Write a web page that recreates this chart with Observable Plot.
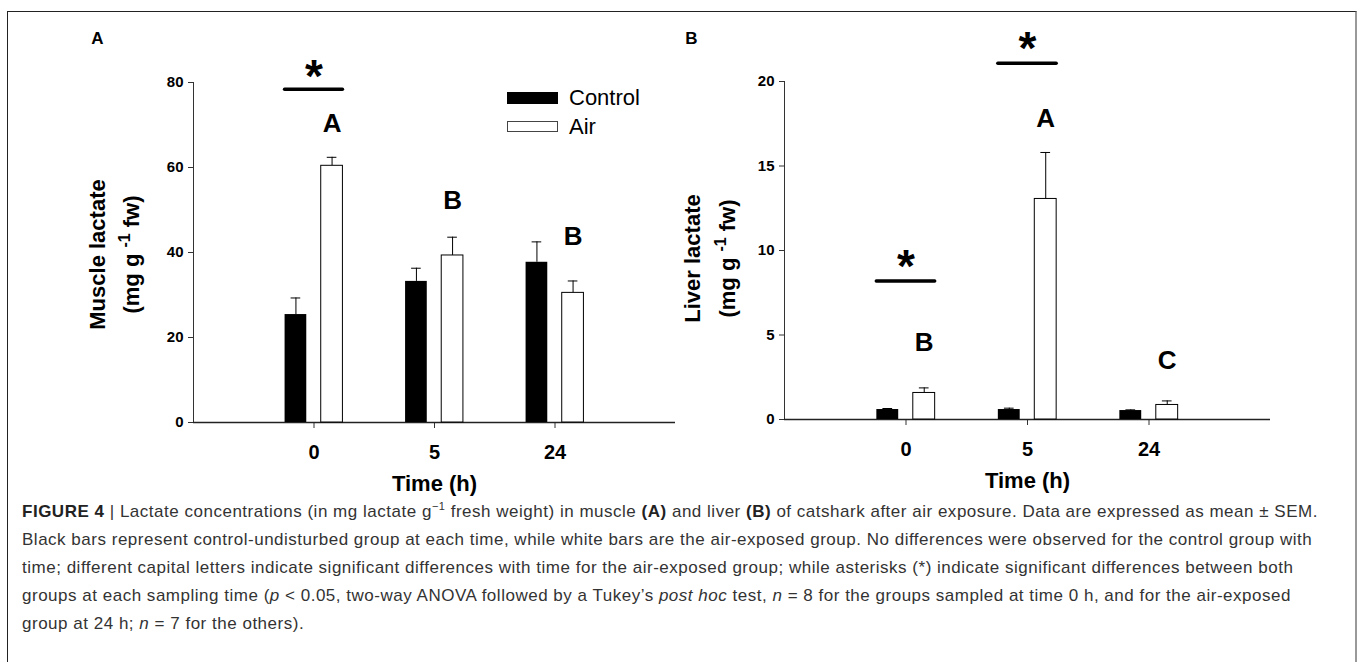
<!DOCTYPE html>
<html>
<head>
<meta charset="utf-8">
<script src="https://cdn.jsdelivr.net/npm/d3@7"></script>
<script src="https://cdn.jsdelivr.net/npm/@observablehq/plot@0.6"></script>
<style>
  html, body { margin: 0; padding: 0; background: #fff; }
  #root { position: relative; width: 1358px; height: 662px; overflow: hidden; font-family: "Liberation Sans", Arial, sans-serif; }
  #frame { position: absolute; left: 7px; top: 11px; width: 1347px; height: 700px; border-left: 1px solid #222; border-top: 1px solid #222; border-right: 2px solid #999; }
  .panel { position: absolute; left: 0; top: 0; }
  .panel svg { overflow: visible; }
  .sw { position: absolute; box-sizing: border-box; }
  .lg { position: absolute; font-size: 22px; color: #000; line-height: 22px; }
  #caption { position: absolute; left: 22px; top: 498px; font-size: 17px; line-height: 28px; color: #333; white-space: nowrap; }
  #caption .ln { display: block; height: 28px; }
  #caption sup { line-height: 0; font-size: 11px; }
  #caption b { color: #222; }
</style>
</head>
<body>
<div id="root">
  <div id="frame"></div>
  <div id="panelA" class="panel"></div>
  <div id="panelB" class="panel"></div>
  <div class="sw" style="left:507px; top:92px; width:51px; height:12px; background:#000;"></div>
  <div class="lg" style="left:569px; top:87px;">Control</div>
  <div class="sw" style="left:507px; top:121px; width:51px; height:11px; background:#fff; border:1px solid #444;"></div>
  <div class="lg" style="left:569px; top:116px;">Air</div>
  <div id="caption"><span class="ln" id="ln1"><b>FIGURE 4</b> | Lactate concentrations (in mg lactate g<sup>−1</sup> fresh weight) in muscle <b>(A)</b> and liver <b>(B)</b> of catshark after air exposure. Data are expressed as mean ± SEM.</span><span class="ln">Black bars represent control-undisturbed group at each time, while white bars are the air-exposed group. No differences were observed for the control group with</span><span class="ln">time; different capital letters indicate significant differences with time for the air-exposed group; while asterisks (*) indicate significant differences between both</span><span class="ln">groups at each sampling time (<i>p</i> &lt; 0.05, two-way ANOVA followed by a Tukey’s <i>post hoc</i> test, <i>n</i> = 8 for the groups sampled at time 0 h, and for the air-exposed</span><span class="ln">group at 24 h; <i>n</i> = 7 for the others).</span></div>
</div>
<script>
// ---- data ----
const times = ["0", "5", "24"];
const groups = ["Control", "Air"];

const muscleControl = [25.4, 33.2, 37.7];
const muscleControlSem = [3.9, 3.1, 4.8];
const muscleAir = [60.4, 39.3, 30.5];
const muscleAirSem = [2.0, 4.3, 2.8];
const muscleLetters = ["A", "B", "B"];
const muscleLetterLevel = [70.4, 52.2, 43.8];
const muscleSigTimes = ["0"];
const muscleSigLine = [78.4];
const muscleSigStar = [81.2];
const muscleTicks = [0, 20, 40, 60, 80];

const liverControl = [0.59, 0.59, 0.53];
const liverControlSem = [0.06, 0.08, 0.04];
const liverAir = [1.57, 13.05, 0.86];
const liverAirSem = [0.30, 2.75, 0.24];
const liverLetters = ["B", "A", "C"];
const liverLetterLevel = [4.54, 17.8, 3.48];
const liverSigTimes = ["0", "5"];
const liverSigLine = [8.19, 21.08];
const liverSigStar = [9.0, 21.9];
const liverTicks = [0, 5, 10, 15, 20];

// ---- drawing ----
const W = 1358, H = 500;
const FONT = "Liberation Sans, Arial, sans-serif";
const slot = {Control: [-0.24, -0.06], Air: [0.06, 0.24]};

function panel(cfg) {
  const pos = t => times.indexOf(t) + 1;
  const rows = [];
  times.forEach((t, i) => {
    rows.push({t, group: "Control", value: cfg.control[i], sem: cfg.controlSem[i]});
    rows.push({t, group: "Air", value: cfg.air[i], sem: cfg.airSem[i], letter: cfg.letters[i], level: cfg.letterLevel[i]});
  });
  const ctr = d => pos(d.t) + (slot[d.group][0] + slot[d.group][1]) / 2;
  const sig = cfg.sigTimes.map((t, i) => ({t, line: cfg.sigLine[i], star: cfg.sigStar[i]}));
  const ctl = rows.filter(d => d.group === "Control");
  const air = rows.filter(d => d.group === "Air");
  const [x0, x1] = cfg.xRange, [yTop, yBot] = cfg.yRange;
  const yMax = cfg.ticks[cfg.ticks.length - 1];
  return Plot.plot({
    width: W, height: H,
    marginLeft: x0, marginRight: W - x1, marginTop: yTop, marginBottom: H - yBot,
    x: {domain: [0, 4], axis: null},
    y: {domain: [0, yMax], axis: null},
    style: {fontFamily: FONT, background: "transparent", color: "#000"},
    marks: [
      Plot.axisY({ticks: cfg.ticks, tickSize: 5, tickPadding: 5, fontSize: 15, fontWeight: "bold", stroke: "#333", label: null}),
      Plot.axisX({ticks: [1, 2, 3], tickFormat: i => times[i - 1], tickSize: 6, tickPadding: 16, fontSize: 20, fontWeight: "bold", stroke: "#333", label: null}),
      Plot.ruleX([0], {y1: 0, y2: yMax, stroke: "#333", strokeWidth: 1}),
      Plot.ruleY([0], {x1: 0, x2: 4, stroke: "#222", strokeWidth: 1.5}),
      // error bars (upper SEM)
      Plot.ruleX(rows, {x: ctr, y1: "value", y2: d => d.value + d.sem, stroke: "#000", strokeWidth: 1}),
      Plot.ruleY(rows, {y: d => d.value + d.sem, x1: d => ctr(d) - 0.04, x2: d => ctr(d) + 0.04, stroke: "#000", strokeWidth: 1}),
      // bars
      Plot.rect(ctl, {x1: d => pos(d.t) + slot.Control[0], x2: d => pos(d.t) + slot.Control[1], y1: 0, y2: "value", fill: "#000"}),
      Plot.rect(air, {x1: d => pos(d.t) + slot.Air[0], x2: d => pos(d.t) + slot.Air[1], y1: 0, y2: "value", fill: "#fff", stroke: "#000", strokeWidth: 1}),
      // letters
      Plot.text(air, {x: ctr, y: "level", text: "letter", fontSize: 26, fontWeight: "bold"}),
      // significance
      Plot.ruleY(sig, {y: "line", x1: d => pos(d.t) - 0.24, x2: d => pos(d.t) + 0.24, stroke: "#000", strokeWidth: 3.5, strokeLinecap: "round"}),
      Plot.text(sig, {x: d => pos(d.t), y: "star", text: () => "*", fontSize: 46, fontWeight: "bold"}),
      // titles
      Plot.text(["Time (h)"], {frameAnchor: "bottom", dy: 61, fontSize: 22, fontWeight: "bold", lineAnchor: "middle"}),
      Plot.text([cfg.label1], {frameAnchor: "left", dx: cfg.lab1 - x0, dy: cfg.labDy, rotate: -90, fontSize: 22, fontWeight: "bold", textAnchor: "middle", lineAnchor: "middle"}),
      Plot.text(["(mg g^-1 fw)"], {frameAnchor: "left", dx: cfg.lab2 - x0, dy: cfg.labDy, rotate: -90, fontSize: 22, fontWeight: "bold", textAnchor: "middle", lineAnchor: "middle"}),
      Plot.text([cfg.panel], {frameAnchor: "top-left", dx: cfg.panelX - x0, dy: 38 - yTop, fontSize: 17, fontWeight: "bold", textAnchor: "middle", lineAnchor: "middle"})
    ]
  });
}

function fixSuperscript(svg) {
  svg.querySelectorAll("text").forEach(el => {
    if (el.textContent === "(mg g^-1 fw)") {
      const ns = "http://www.w3.org/2000/svg";
      while (el.firstChild) el.removeChild(el.firstChild);
      const a = document.createElementNS(ns, "tspan"); a.textContent = "(mg g ";
      const b = document.createElementNS(ns, "tspan"); b.textContent = "-1"; b.setAttribute("dy", "-9"); b.setAttribute("font-size", "16");
      const c = document.createElementNS(ns, "tspan"); c.textContent = " fw)"; c.setAttribute("dy", "9");
      el.append(a, b, c);
    }
  });
}

const a = panel({control: muscleControl, controlSem: muscleControlSem, air: muscleAir, airSem: muscleAirSem,
  letters: muscleLetters, letterLevel: muscleLetterLevel, sigTimes: muscleSigTimes, sigLine: muscleSigLine, sigStar: muscleSigStar,
  ticks: muscleTicks, xRange: [193, 675], yRange: [82, 422], label1: "Muscle lactate", lab1: 97, lab2: 131, labDy: 2, panel: "A", panelX: 97});
const b = panel({control: liverControl, controlSem: liverControlSem, air: liverAir, airSem: liverAirSem,
  letters: liverLetters, letterLevel: liverLetterLevel, sigTimes: liverSigTimes, sigLine: liverSigLine, sigStar: liverSigStar,
  ticks: liverTicks, xRange: [784, 1270], yRange: [81, 419], label1: "Liver lactate", lab1: 692, lab2: 727, labDy: 8, panel: "B", panelX: 691});
fixSuperscript(a); fixSuperscript(b);
document.getElementById("panelA").appendChild(a);
document.getElementById("panelB").appendChild(b);

// fit caption letter-spacing so the first line spans the same width as the reference
(function () {
  const cap = document.getElementById("caption");
  const l1 = document.getElementById("ln1");
  const r = document.createRange(); r.selectNodeContents(l1);
  const w = r.getBoundingClientRect().width;
  const n = l1.textContent.length;
  const target = 1296;
  const ls = Math.max(-0.5, Math.min(1.5, (target - w) / n));
  cap.style.letterSpacing = ls.toFixed(3) + "px";
})();
</script>
</body>
</html>
